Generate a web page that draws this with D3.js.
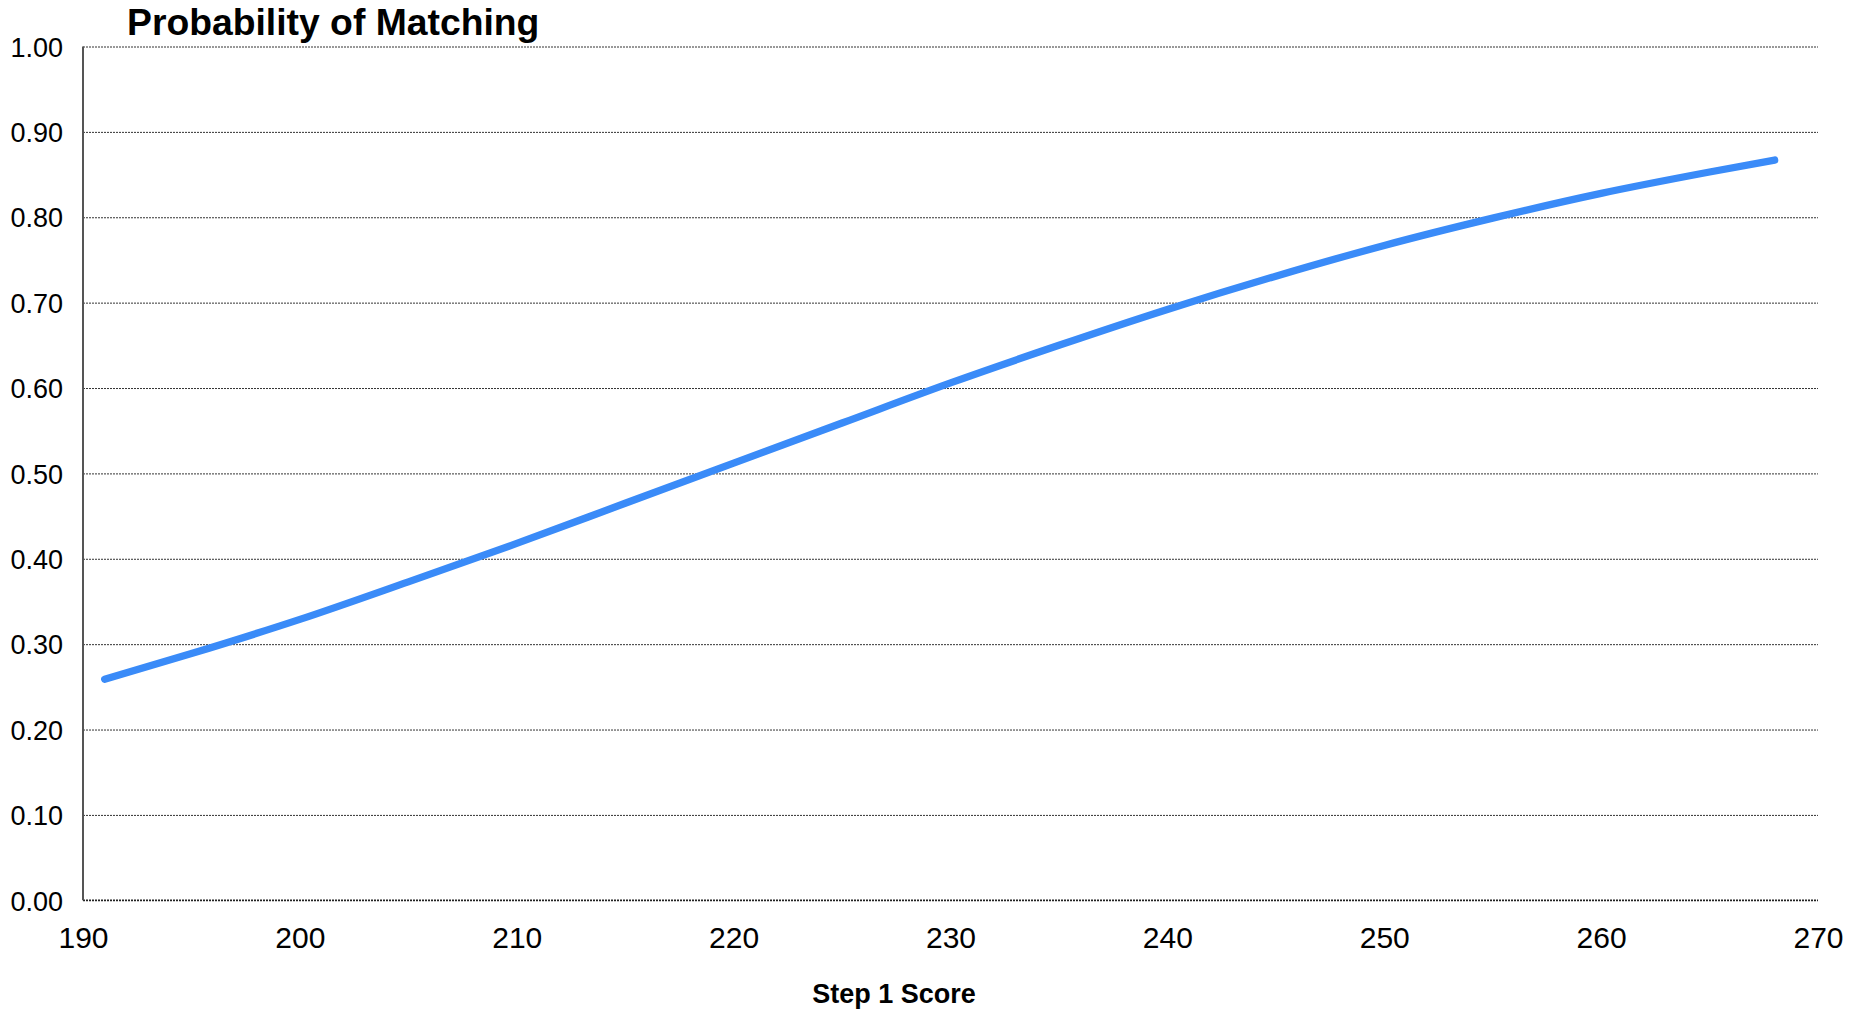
<!DOCTYPE html>
<html>
<head>
<meta charset="utf-8">
<script src="https://cdn.jsdelivr.net/npm/d3@7"></script>
<style>
  html, body { margin: 0; padding: 0; background: #fff; }
  svg { display: block; }
  text { font-family: "Liberation Sans", Arial, sans-serif; fill: #000; }
</style>
</head>
<body>
<svg id="chart" width="1870" height="1010"></svg>
<script>
// ---- data ----
const scores = [191, 195, 200, 205, 210, 215, 220, 225, 230, 235, 240, 245, 250, 255, 260, 265, 268];
const probability = [0.259, 0.289, 0.329, 0.373, 0.418, 0.465, 0.512, 0.559, 0.606, 0.650, 0.692, 0.731, 0.767, 0.799, 0.828, 0.853, 0.867];
const xTicks = [190, 200, 210, 220, 230, 240, 250, 260, 270];
const yTicks = [0, 0.1, 0.2, 0.3, 0.4, 0.5, 0.6, 0.7, 0.8, 0.9, 1.0];
const titleText = "Probability of Matching";
const xAxisTitle = "Step 1 Score";

// ---- layout ----
const plotLeft = 83, plotRight = 1818, plotTop = 46.5, plotBottom = 900.3;
const svg = d3.select("#chart");

const x = d3.scaleLinear().domain([190, 270]).range([plotLeft, plotRight]);
const y = d3.scaleLinear().domain([0, 1]).range([plotBottom, plotTop]);

// gridlines
const grid = svg.append("g")
  .attr("transform", `translate(${plotLeft},0)`)
  .call(d3.axisLeft(y).tickValues(yTicks.filter(v => v > 0)).tickSize(-(plotRight - plotLeft)).tickFormat(""));
grid.select(".domain").remove();
grid.selectAll(".tick line")
  .attr("stroke", "#333")
  .attr("stroke-width", 1)
  .attr("stroke-dasharray", "2,1");

// y tick labels
const yAx = svg.append("g")
  .attr("transform", `translate(${plotLeft - 20},0)`)
  .call(d3.axisLeft(y).tickValues(yTicks).tickSize(0).tickPadding(0).tickFormat(d3.format(".2f")));
yAx.select(".domain").remove();
yAx.selectAll(".tick text")
  .style("font-family", '"Liberation Sans", Arial, sans-serif')
  .attr("font-size", 27)
  .attr("fill", "#000")
  .attr("dy", "0.36em");

// x axis baseline
svg.append("line")
  .attr("x1", plotLeft).attr("x2", plotRight)
  .attr("y1", y(0)).attr("y2", y(0))
  .attr("stroke", "#222").attr("stroke-width", 1.8)
  .attr("stroke-dasharray", "2,1");

// left axis line
svg.append("line")
  .attr("x1", plotLeft).attr("x2", plotLeft)
  .attr("y1", plotTop).attr("y2", plotBottom)
  .attr("stroke", "#555").attr("stroke-width", 2);

// x tick labels
const xAx = svg.append("g")
  .attr("transform", `translate(0,${plotBottom})`)
  .call(d3.axisBottom(x).tickValues(xTicks).tickSize(0).tickPadding(0).tickFormat(d3.format("d")));
xAx.select(".domain").remove();
xAx.selectAll(".tick text")
  .style("font-family", '"Liberation Sans", Arial, sans-serif')
  .attr("font-size", 30)
  .attr("fill", "#000")
  .attr("dy", null)
  .attr("y", 47.5);

// the curve
const line = d3.line()
  .x((d, i) => x(scores[i]))
  .y(d => y(d))
  .curve(d3.curveMonotoneX);

svg.append("path")
  .datum(probability)
  .attr("d", line)
  .attr("fill", "none")
  .attr("stroke", "#3a8bf8")
  .attr("stroke-width", 7.3)
  .attr("stroke-linecap", "round")
  .attr("stroke-linejoin", "round");

// title
svg.append("text")
  .attr("x", 127).attr("y", 35)
  .attr("font-size", 37.3)
  .attr("font-weight", "bold")
  .text(titleText);

// x axis title
svg.append("text")
  .attr("x", 894).attr("y", 1003)
  .attr("text-anchor", "middle")
  .attr("font-size", 27)
  .attr("font-weight", "bold")
  .text(xAxisTitle);
</script>
</body>
</html>
